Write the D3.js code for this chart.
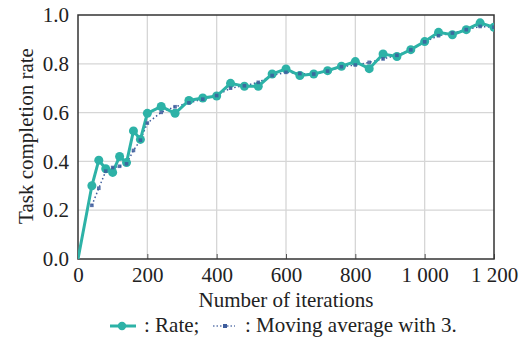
<!DOCTYPE html>
<html>
<head>
<meta charset="utf-8">
<script src="https://cdn.jsdelivr.net/npm/d3@7"></script>
<style>
	body { margin: 0; background: #fff; }
	svg text { font-family: Liberation Serif, Times New Roman, Times, DejaVu Serif, serif !important; fill: #222; }
</style>
</head>
<body>
<div id="chart"></div>
<script>
const iterations = [0, 40, 60, 80, 100, 120, 140, 160, 180, 200, 240, 280, 320, 360, 400, 440, 480, 520, 560, 600,
	640, 680, 720, 760, 800, 840, 880, 920, 960, 1000, 1040, 1080, 1120, 1160, 1200]
const rate = [0, 0.30, 0.405, 0.37, 0.355, 0.42, 0.395, 0.525, 0.49, 0.597, 0.625, 0.597, 0.65, 0.66, 0.668, 0.72, 0.708, 0.708, 0.758, 0.779,
	0.752, 0.758, 0.772, 0.79, 0.809, 0.78, 0.84, 0.83, 0.858, 0.891, 0.929, 0.919, 0.94, 0.968, 0.95]
const maIterations = iterations.slice(1)
const movingAvg = [0.22, 0.29, 0.36, 0.375, 0.38, 0.39, 0.445, 0.487, 0.557, 0.601, 0.624, 0.64, 0.655, 0.67, 0.70, 0.71, 0.724, 0.752, 0.765,
	0.76, 0.758, 0.77, 0.788, 0.795, 0.806, 0.82, 0.835, 0.857, 0.89, 0.915, 0.926, 0.94, 0.953, 0.95]
const xTicks = [0, 200, 400, 600, 800, 1000, 1200]
const yTicks = [0, 0.2, 0.4, 0.6, 0.8, 1.0]

const margins = { top: 15, left: 78, bottom: 82, right: 34 }
const width = 528, height = 341
const innerWidth = width - margins.left - margins.right
const innerHeight = height - margins.top - margins.bottom

const rateColor = '#2db2a7'
const maColor = '#3d5c9c'
const font = 'Liberation Serif, Times New Roman, Times, DejaVu Serif, serif'
const fontSize = 21

const svg = d3.select('#chart').append('svg')
	.attr('width', width)
	.attr('height', height)
	.attr('font-family', font)
	.attr('font-size', fontSize)

const x = d3.scaleLinear().domain([0, 1200]).range([0, innerWidth])
const y = d3.scaleLinear().domain([0, 1]).range([innerHeight, 0])

const g = svg.append('g').attr('transform', `translate(${margins.left}, ${margins.top})`)

svg.append('clipPath').attr('id', 'clip')
	.append('rect').attr('width', innerWidth).attr('height', innerHeight)

// grid
g.append('g').selectAll('line').data(xTicks.slice(1, -1)).enter().append('line')
	.attr('x1', (d) => x(d)).attr('x2', (d) => x(d))
	.attr('y1', 0).attr('y2', innerHeight)
	.attr('stroke', '#d6d6d6').attr('stroke-width', 1.3)
g.append('g').selectAll('line').data(yTicks.slice(1, -1)).enter().append('line')
	.attr('y1', (d) => y(d)).attr('y2', (d) => y(d))
	.attr('x1', 0).attr('x2', innerWidth)
	.attr('stroke', '#d6d6d6').attr('stroke-width', 1.3)

const styleText = (sel) => sel
	.attr('font-family', font)
	.attr('font-size', fontSize)
	.style('font-size', fontSize + 'px')
	.attr('fill', '#222')

// axes
const xAxis = g.append('g')
	.attr('transform', `translate(0, ${innerHeight})`)
	.call(d3.axisBottom(x).tickValues(xTicks).tickSizeInner(-5).tickSizeOuter(0).tickPadding(8)
		.tickFormat((d) => d >= 1000 ? `${Math.floor(d / 1000)} ${String(d % 1000).padStart(3, '0')}` : d))
	.attr('font-family', font).attr('font-size', fontSize)
xAxis.select('.domain').remove()
xAxis.selectAll('line').attr('stroke', '#555')
xAxis.selectAll('text').call(styleText)

const yAxis = g.append('g')
	.call(d3.axisLeft(y).tickValues(yTicks).tickSize(0).tickPadding(9).tickFormat(d3.format('.1f')))
	.attr('font-family', font).attr('font-size', fontSize)
yAxis.select('.domain').remove()
yAxis.selectAll('text').call(styleText)

g.append('rect')
	.attr('width', innerWidth).attr('height', innerHeight)
	.attr('fill', 'none').attr('stroke', '#333').attr('stroke-width', 1.5)

// series
const plot = g.append('g').attr('clip-path', 'url(#clip)')

const line = d3.line().x((d) => x(d[0])).y((d) => y(d[1]))
const rateData = d3.zip(iterations, rate)
const maData = d3.zip(maIterations, movingAvg)

plot.append('path')
	.datum(maData)
	.attr('d', line)
	.attr('fill', 'none')
	.attr('stroke', maColor)
	.attr('stroke-width', 1.5)
	.attr('stroke-dasharray', '1.5 2.5')

plot.append('path')
	.datum(rateData)
	.attr('d', line)
	.attr('fill', 'none')
	.attr('stroke', rateColor)
	.attr('stroke-width', 3)

plot.append('g').selectAll('circle').data(rateData.slice(1)).enter().append('circle')
	.attr('cx', (d) => x(d[0])).attr('cy', (d) => y(d[1]))
	.attr('r', 4.5)
	.attr('fill', rateColor)

plot.append('g').selectAll('rect').data(maData).enter().append('rect')
	.attr('x', (d) => x(d[0]) - 1.8).attr('y', (d) => y(d[1]) - 1.8)
	.attr('width', 3.6).attr('height', 3.6)
	.attr('fill', maColor).attr('opacity', 0.85)

// labels
svg.append('text')
	.attr('transform', `translate(33, ${margins.top + innerHeight / 2 - 1}) rotate(-90)`)
	.attr('text-anchor', 'middle')
	.call(styleText)
	.text('Task completion rate')

svg.append('text')
	.attr('x', margins.left + innerWidth / 2)
	.attr('y', 307)
	.attr('text-anchor', 'middle')
	.call(styleText)
	.text('Number of iterations')

// legend
const legend = svg.append('g').attr('transform', 'translate(110, 326)')
legend.append('line').attr('x1', 0).attr('x2', 26).attr('y1', 0).attr('y2', 0)
	.attr('stroke', rateColor).attr('stroke-width', 3)
legend.append('circle').attr('cx', 12).attr('cy', 0).attr('r', 4.2).attr('fill', rateColor)
legend.append('text').attr('x', 34).attr('y', 6).call(styleText).text(': Rate;')

legend.append('line').attr('x1', 103).attr('x2', 125).attr('y1', 0).attr('y2', 0)
	.attr('stroke', maColor).attr('stroke-width', 2).attr('stroke-dasharray', '1.5 2').attr('opacity', 0.6)
legend.append('rect').attr('x', 113).attr('y', -2).attr('width', 4).attr('height', 4).attr('fill', maColor)
legend.append('text').attr('x', 135).attr('y', 6).call(styleText).text(': Moving average with 3.')
</script>
</body>
</html>
